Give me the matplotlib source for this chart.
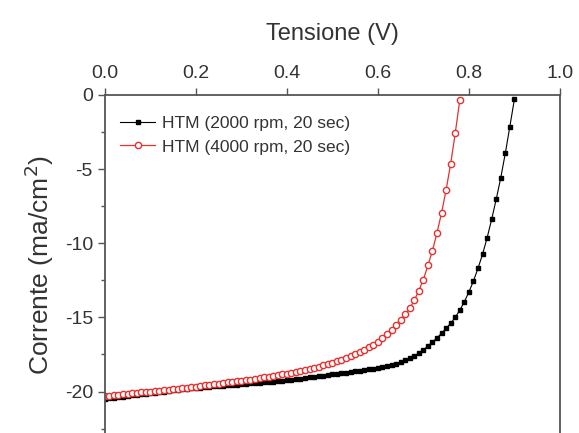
import matplotlib
matplotlib.use("Agg")
import matplotlib.pyplot as plt
from matplotlib.ticker import MultipleLocator

plt.rcParams["font.family"] = ["Liberation Sans", "DejaVu Sans"]
plt.rcParams["axes.unicode_minus"] = False

# Voltage steps (V) for each sample
v_2000 = [round(0.01 * i, 2) for i in range(91)]
v_4000 = [round(0.01 * i, 2) for i in range(79)]

# Current density (mA/cm2)
j_2000 = [
    -20.50, -20.46, -20.42, -20.38, -20.34, -20.30, -20.26, -20.22, -20.18, -20.14,
    -20.10, -20.07, -20.03, -20.00, -19.96, -19.93, -19.89, -19.86, -19.82, -19.79,
    -19.75, -19.73, -19.70, -19.68, -19.65, -19.63, -19.60, -19.58, -19.55, -19.53,
    -19.50, -19.48, -19.45, -19.43, -19.40, -19.38, -19.35, -19.33, -19.30, -19.27,
    -19.24, -19.21, -19.17, -19.13, -19.09, -19.05, -19.01, -18.97, -18.93, -18.89,
    -18.85, -18.81, -18.77, -18.73, -18.69, -18.65, -18.60, -18.56, -18.51, -18.46,
    -18.41, -18.35, -18.28, -18.20, -18.12, -18.02, -17.90, -17.76, -17.60, -17.41,
    -17.19, -16.94, -16.67, -16.38, -16.07, -15.75, -15.40, -15.00, -14.52, -13.95,
    -13.30, -12.55, -11.70, -10.75, -9.65, -8.40, -7.05, -5.60, -3.95, -2.15,
    -0.30,
]
j_4000 = [
    -20.30, -20.27, -20.24, -20.21, -20.18, -20.15, -20.12, -20.09, -20.06, -20.03,
    -20.00, -19.97, -19.94, -19.91, -19.88, -19.85, -19.81, -19.78, -19.74, -19.71,
    -19.67, -19.63, -19.59, -19.55, -19.51, -19.47, -19.43, -19.39, -19.35, -19.31,
    -19.27, -19.23, -19.19, -19.15, -19.10, -19.05, -19.00, -18.95, -18.90, -18.85,
    -18.79, -18.73, -18.67, -18.61, -18.54, -18.47, -18.40, -18.32, -18.24, -18.15,
    -18.06, -17.96, -17.86, -17.75, -17.63, -17.50, -17.36, -17.20, -17.03, -16.84,
    -16.63, -16.40, -16.14, -15.85, -15.52, -15.15, -14.80, -14.40, -13.85, -13.20,
    -12.45, -11.50, -10.50, -9.30, -7.95, -6.40, -4.65, -2.60, -0.35,
]

labels = ["HTM (2000 rpm, 20 sec)", "HTM (4000 rpm, 20 sec)"]
x_ticks = [0.0, 0.2, 0.4, 0.6, 0.8, 1.0]
y_ticks = [0, -5, -10, -15, -20]

fig = plt.figure(figsize=(5.79, 4.33), dpi=100)
ax = fig.add_axes([0.181, -0.007, 0.786, 0.788])

red = "#e8302e"
ax.plot(v_2000, j_2000, color="black", linewidth=0.8, marker="s",
        markersize=3.2, markerfacecolor="black", markeredgecolor="black",
        label=labels[0])
ax.plot(v_4000, j_4000, color=red, linewidth=0.9, marker="o",
        markersize=4.5, markerfacecolor="white", markeredgecolor=red,
        markeredgewidth=1.0, label=labels[1])

ax.set_xlim(0, 1.0)
ax.set_ylim(-23, 0)
ax.xaxis.tick_top()
ax.xaxis.set_label_position("top")
ax.set_xticks(x_ticks)
ax.set_xticklabels([f"{t:.1f}" for t in x_ticks])
ax.set_yticks(y_ticks)
ax.yaxis.set_minor_locator(MultipleLocator(2.5))

text_color = "#333333"
ax.tick_params(axis="both", which="major", direction="out", length=5,
               width=1, colors="#555555", labelcolor=text_color, labelsize=14)
ax.tick_params(axis="x", pad=4)
ax.tick_params(axis="y", which="minor", direction="out", length=3,
               width=1, colors="#555555")

for s in ax.spines.values():
    s.set_color("#555555")
    s.set_linewidth(1.3)

ax.set_xlabel("Tensione (V)", fontsize=17, color=text_color, labelpad=18)
ax.set_ylabel("Corrente (ma/cm$^2$)", fontsize=19, color=text_color, labelpad=6)

ax.legend(loc="upper left", bbox_to_anchor=(0.0, 0.985), frameon=False,
          fontsize=12.5, handlelength=2.0, handletextpad=0.4,
          borderaxespad=0.5, labelspacing=0.5, labelcolor=text_color)

fig.savefig("out.png", dpi=100)
